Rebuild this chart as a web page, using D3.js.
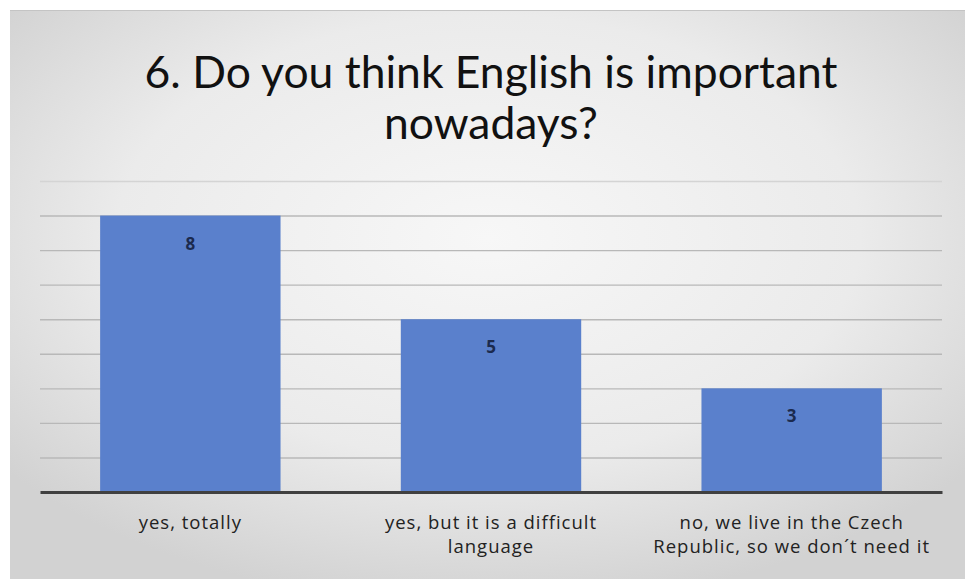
<!DOCTYPE html>
<html>
<head>
<meta charset="utf-8">
<script src="https://cdn.jsdelivr.net/npm/d3@7"></script>
<style>
  body { margin: 0; background: #fff; }
  svg { display: block; }
</style>
</head>
<body>
<div id="chart"></div>
<script>
/* DATA */
var categories = [
  ["yes, totally"],
  ["yes, but it is a difficult", "language"],
  ["no, we live in the Czech", "Republic, so we don\u00b4t need it"]
];
var answers = [8, 5, 3];
var yTicks = [0, 1, 2, 3, 4, 5, 6, 7, 8, 9];
var titleLines = ["6. Do you think English is important", "nowadays?"];

var W = 965, H = 579;
var margin = {top: 181, right: 23, bottom: 87, left: 40};
var width = W - margin.left - margin.right,
    height = H - margin.top - margin.bottom;

var svg = d3.select("#chart").append("svg")
  .attr("width", W)
  .attr("height", H);

/* background panel with soft radial gradient */
var defs = svg.append("defs");
var grad = defs.append("radialGradient")
  .attr("id", "bg")
  .attr("cx", "50%").attr("cy", "40%").attr("r", "65%");
grad.append("stop").attr("offset", "0%").attr("stop-color", "#f7f7f7");
grad.append("stop").attr("offset", "60%").attr("stop-color", "#ebebeb");
grad.append("stop").attr("offset", "100%").attr("stop-color", "#d2d2d2");

svg.append("rect")
  .attr("x", 10).attr("y", 10)
  .attr("width", W - 10).attr("height", H - 10)
  .attr("fill", "url(#bg)");
svg.append("line")
  .attr("x1", 10).attr("x2", W).attr("y1", 10.5).attr("y2", 10.5)
  .attr("stroke", "#c4c4c4");

/* title */
var fontFam = "Lato, 'Open Sans', sans-serif";
var title = svg.append("g");
title.selectAll("text")
  .data(titleLines)
  .enter().append("text")
  .attr("x", 491)
  .attr("y", function(d, i) { return 88 + i * 51; })
  .attr("text-anchor", "middle")
  .style("font-family", fontFam)
  .style("font-size", "40px")
  .style("fill", "#111")
  .text(function(d) { return d; });

/* fit the first title line to the reference width */
var t0 = title.select("text").node();
var w0 = t0.getComputedTextLength();
var fs = 40 * 693 / w0;
title.selectAll("text").style("font-size", fs + "px");

var g = svg.append("g")
  .attr("transform", "translate(" + margin.left + "," + margin.top + ")");

var x = d3.scaleBand()
  .domain(d3.range(answers.length))
  .range([0, width])
  .paddingInner(0.4)
  .paddingOuter(0.2);

var y = d3.scaleLinear()
  .domain([0, 9])
  .range([height, 0]);

/* gridlines */
g.append("g")
  .attr("class", "grid")
  .call(d3.axisLeft(y).tickValues(yTicks.slice(1)).tickSize(-width).tickFormat(""))
  .call(function(s) {
    s.select(".domain").remove();
    s.selectAll("line").attr("stroke", "#b8b8b8").attr("stroke-width", 1.4);
    s.selectAll(".tick").filter(function(d) { return d === 9; })
      .select("line").attr("stroke", "#d4d4d4");
  });

/* bars */
g.selectAll(".bar")
  .data(answers)
  .enter().append("rect")
  .attr("class", "bar")
  .attr("x", function(d, i) { return x(i); })
  .attr("y", function(d) { return y(d); })
  .attr("width", x.bandwidth())
  .attr("height", function(d) { return height - y(d); })
  .attr("fill", "#5a80cc");

/* value labels */
g.selectAll(".val")
  .data(answers)
  .enter().append("text")
  .attr("class", "val")
  .attr("x", function(d, i) { return x(i) + x.bandwidth() / 2; })
  .attr("y", function(d) { return y(d) + 34; })
  .attr("text-anchor", "middle")
  .style("font-family", "'Open Sans', sans-serif")
  .style("font-weight", "bold")
  .style("font-size", "17px")
  .style("fill", "#1b2a4e")
  .text(function(d) { return d; });

/* x axis baseline */
g.append("g")
  .attr("transform", "translate(0," + height + ")")
  .call(d3.axisBottom(x).tickSize(0).tickFormat(""))
  .call(function(s) {
    s.select(".domain").attr("stroke", "#404040").attr("stroke-width", 3);
  });

/* category labels */
var cats = g.selectAll(".cat")
  .data(categories)
  .enter().append("text")
  .attr("class", "cat")
  .attr("x", function(d, i) { return x(i) + x.bandwidth() / 2; })
  .attr("y", height + 37)
  .attr("text-anchor", "middle")
  .style("font-family", "'Open Sans', sans-serif")
  .style("font-size", "18.5px")
  .style("letter-spacing", "1px")
  .style("fill", "#222");

cats.selectAll("tspan")
  .data(function(d) { return d; })
  .enter().append("tspan")
  .attr("x", function() { return d3.select(this.parentNode).attr("x"); })
  .attr("dy", function(d, i) { return i === 0 ? 0 : 24; })
  .text(function(d) { return d; });
</script>
</body>
</html>
